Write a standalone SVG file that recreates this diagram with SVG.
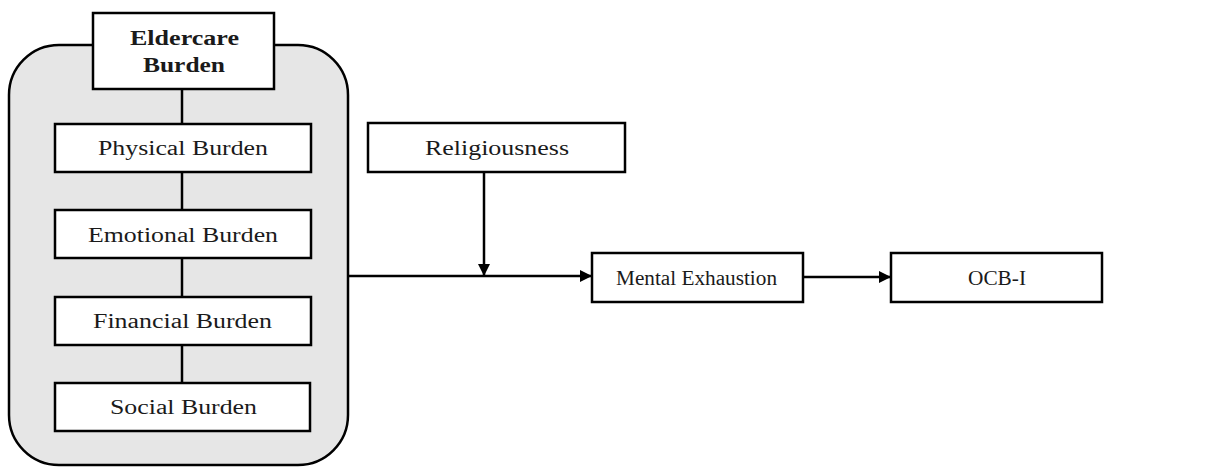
<svg xmlns="http://www.w3.org/2000/svg" width="1212" height="467" viewBox="0 0 1212 467">
<defs>
<style>
.box{fill:#fff;stroke:#000;stroke-width:2.5}
.t{font-family:"Liberation Serif","Times New Roman",serif;font-size:20px;fill:#1a1a1a;text-anchor:middle}
.b{font-weight:bold}
.ln{stroke:#000;stroke-width:2.5;fill:none}
</style>
<marker id="ah" viewBox="0 0 10 10" refX="10" refY="5" markerWidth="5" markerHeight="5" orient="auto" markerUnits="strokeWidth">
<path d="M0,0L10,5L0,10z" fill="#000"/>
</marker>
</defs>
<g id="group">
<rect x="9" y="45" width="339" height="420" rx="50" ry="50" fill="#e6e6e6" stroke="#000" stroke-width="2.5"/>
</g>
<g id="connectors">
<line class="ln" x1="182" y1="89" x2="182" y2="124"/>
<line class="ln" x1="182" y1="172" x2="182" y2="210"/>
<line class="ln" x1="182" y1="258" x2="182" y2="297"/>
<line class="ln" x1="182" y1="345" x2="182" y2="383"/>
<line class="ln" x1="348" y1="276" x2="592" y2="276" marker-end="url(#ah)"/>
<line class="ln" x1="484" y1="172" x2="484" y2="276" marker-end="url(#ah)"/>
<line class="ln" x1="803" y1="277" x2="891" y2="277" marker-end="url(#ah)"/>
</g>
<g id="eldercare">
<rect class="box" x="93" y="13" width="181" height="76"/>
<text class="t b" x="184.5" y="45" textLength="109" lengthAdjust="spacingAndGlyphs">Eldercare</text>
<text class="t b" x="184" y="72" textLength="82" lengthAdjust="spacingAndGlyphs">Burden</text>
</g>
<g id="physical">
<rect class="box" x="55" y="124" width="256" height="48"/>
<text class="t" x="183" y="155" textLength="170" lengthAdjust="spacingAndGlyphs">Physical Burden</text>
</g>
<g id="emotional">
<rect class="box" x="55" y="210" width="256" height="48"/>
<text class="t" x="183" y="242" textLength="190" lengthAdjust="spacingAndGlyphs">Emotional Burden</text>
</g>
<g id="financial">
<rect class="box" x="55" y="297" width="256" height="48"/>
<text class="t" x="182.5" y="328" textLength="179" lengthAdjust="spacingAndGlyphs">Financial Burden</text>
</g>
<g id="social">
<rect class="box" x="55" y="383" width="255" height="48"/>
<text class="t" x="183.5" y="414" textLength="147" lengthAdjust="spacingAndGlyphs">Social Burden</text>
</g>
<g id="religiousness">
<rect class="box" x="368" y="123" width="257" height="49"/>
<text class="t" x="497" y="155" textLength="144" lengthAdjust="spacingAndGlyphs">Religiousness</text>
</g>
<g id="mental">
<rect class="box" x="592" y="253" width="211" height="49"/>
<text class="t" x="696.5" y="285" textLength="161" lengthAdjust="spacingAndGlyphs">Mental Exhaustion</text>
</g>
<g id="ocb">
<rect class="box" x="891" y="253" width="211" height="49"/>
<text class="t" x="997" y="285" textLength="58" lengthAdjust="spacingAndGlyphs">OCB-I</text>
</g>
</svg>
